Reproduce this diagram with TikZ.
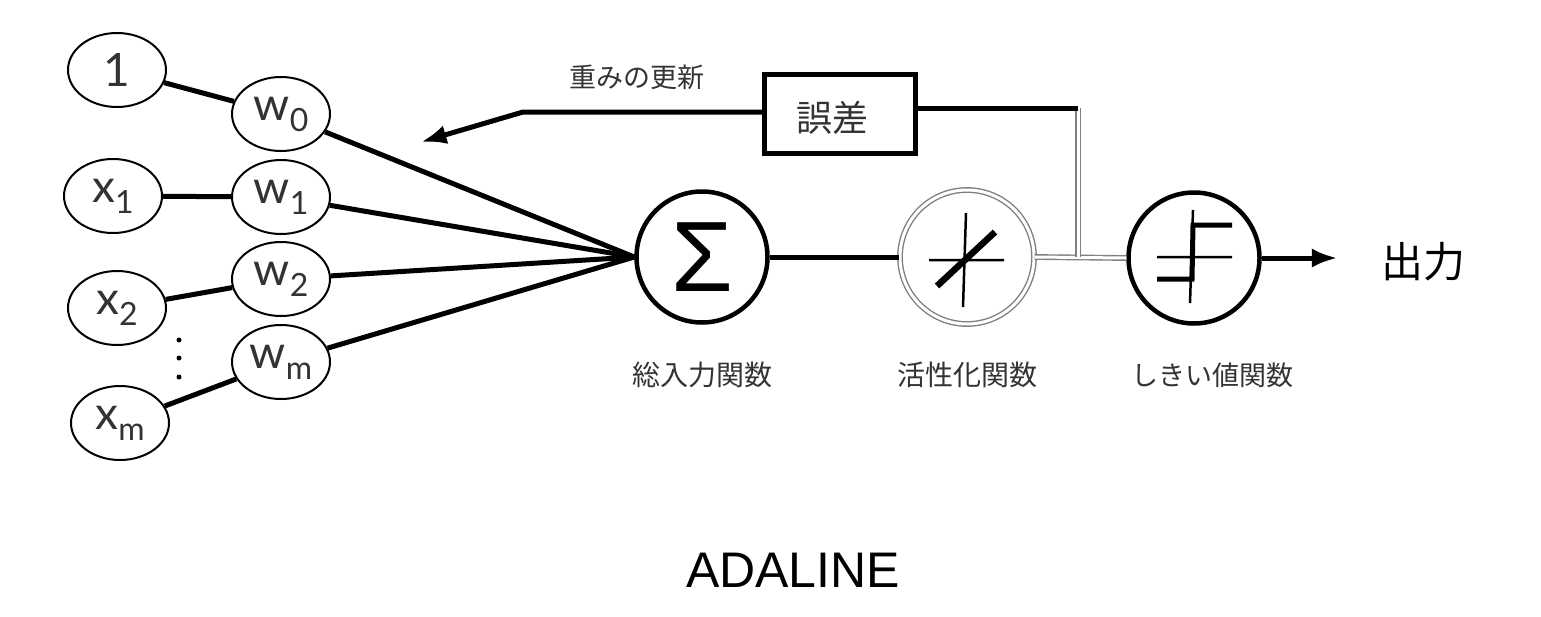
\documentclass[tikz,border=0pt]{standalone}
\usepackage{fontspec}
\setmainfont{Lato}
\newfontfamily\jpfont{Noto Sans CJK JP}
\newfontfamily\arialfont{Liberation Sans}
\usetikzlibrary{arrows.meta,shapes.geometric}

\newcommand{\lowsub}[1]{\raisebox{-11pt}{\fontsize{32}{32}\selectfont #1}}

\tikzset{
  innode/.style={draw, ellipse, line width=2pt, minimum width=98pt, minimum height=74pt,
    inner sep=0pt, text=black!80, font=\fontsize{46}{46}\selectfont},
  fatline/.style={line width=5pt},
  unitnode/.style={draw, circle, line width=4.5pt, minimum size=131pt, inner sep=0pt},
  grayline/.style={draw=black!50, double=white, line width=1.4pt, double distance=3pt},
  jplabel/.style={text=black!80, font=\jpfont\fontsize{28}{28}\selectfont}
}

\begin{document}
\begin{tikzpicture}[x=1pt, y=-1pt]
        \useasboundingbox (0, 0) rectangle (1541, 616);
        % inputs and weights
        \node[innode] (one) at (117, 70) {1};
        \node[innode] (w0) at (281, 114) {w\lowsub{0}};
        \node[innode] (x1) at (113, 196) {x\lowsub{1}};
        \node[innode] (w1) at (281, 197) {w\lowsub{1}};
        \node[innode] (x2) at (117, 308) {x\lowsub{2}};
        \node[innode] (w2) at (281, 279) {w\lowsub{2}};
        \node[innode] (wm) at (281, 362) {w\lowsub{m}};
        \node[innode] (xm) at (120, 423) {x\lowsub{m}};
        \fill (179, 340) circle (2.5pt) (179, 358) circle (2.5pt) (179, 377) circle (2.5pt);
        % units
        \node[unitnode] (sum) at (702, 257) {\arialfont\fontsize{100}{100}\selectfont Σ};
        \node[unitnode, grayline, minimum size=134pt] (act) at (967, 257) {};
        \node[unitnode, minimum size=131pt] (thr) at (1194, 258) {};
        \node[draw, line width=5pt, minimum width=151pt, minimum height=79pt, inner sep=0pt] (err) at (840, 114) {};
        \node[text=black!80, font=\jpfont\fontsize{36}{36}\selectfont] at (832, 118) {誤差};
        \node[font=\jpfont\fontsize{42}{42}\selectfont] (out) at (1423, 262) {出力};
        % connectors
        \draw[fatline] (one) -- (w0);
        \draw[fatline] (x1) -- (w1);
        \draw[fatline] (x2) -- (w2);
        \draw[fatline] (xm) -- (wm);
        \draw[fatline] (w0) -- (sum.west);
        \draw[fatline] (w1) -- (sum.west);
        \draw[fatline] (w2) -- (sum.west);
        \draw[fatline] (wm) -- (sum.west);
        \draw[line width=5pt] (sum) -- (act);
        \coordinate (corner) at (1078, 108);
        \coordinate (tap) at (1078, 257);
        \draw[grayline] (act.east) -- (thr.west);
        \draw[grayline] (corner) -- (tap);
        \draw[line width=5pt] ([yshift=6pt]err.east) -- (corner);
        \coordinate (bend) at (523, 112);
        \coordinate (tip) at (421, 142);
        \draw[fatline, -Latex] ([yshift=2pt]err.west) -- (bend) -- (tip);
        \draw[fatline, -Latex, shorten >=40pt] (thr.east) -- (thr.east -| out.west);
        % glyphs in the units
        \draw[line width=2.5pt, shift={(act.center)}] (-1, -44) -- (-4, 50) (-38, 3) -- (37, 3);
        \draw[line width=6.5pt, shift={(act.center)}] (-30, 29) -- (28, -25);
        \draw[line width=2.5pt, shift={(thr.center)}] (-1, -48) -- (-4, 45) (-37, -1) -- (38, -1);
        \draw[line width=5pt, shift={(thr.center)}] (38, -33) -- (-1, -33) -- (-2, 21) -- (-37, 21);
        % labels
        \node[jplabel, font=\jpfont\fontsize{27}{27}\selectfont] (updlbl) at (637, 77) {重みの更新};
        \node[jplabel] (sumlbl) at (702, 375) {総入力関数};
        \node[jplabel] (actlbl) at (967, 375) {活性化関数};
        \node[jplabel, font=\jpfont\fontsize{27}{27}\selectfont] (thrlbl) at (1212, 375) {しきい値関数};
        \node[font=\arialfont\fontsize{50}{50}\selectfont] (title) at (793, 570) {ADALINE};
    \end{tikzpicture}
\end{document}
